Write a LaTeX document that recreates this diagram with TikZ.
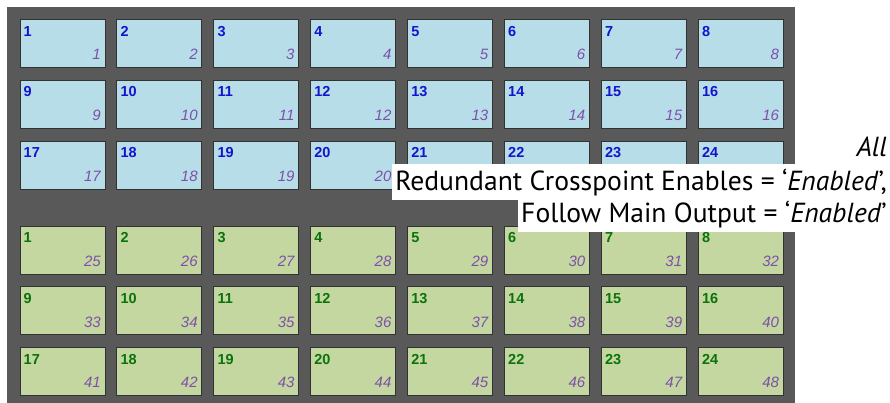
\documentclass[tikz,border=0pt]{standalone}
\usepackage{fontspec}
\setmainfont{Liberation Sans}
\newfontfamily\notefont{PT Sans}
\usetikzlibrary{calc}
\definecolor{panelGrey}{RGB}{89,89,89}
\definecolor{cellEdge}{RGB}{50,50,50}
\definecolor{srcBlue}{RGB}{183,221,232}
\definecolor{dstGreen}{RGB}{196,215,160}
\definecolor{srcText}{RGB}{20,20,205}
\definecolor{dstText}{RGB}{10,115,10}
\definecolor{idxPurple}{RGB}{125,80,170}
\newcommand{\XptCell}[5]{% name, x, y, kind, number
  \node[#4box] (#1) at (#2,#3) {};
  \node[cellnum,#4num] (#1-num) at ([shift={(4,-17)}]#1.north west) {#5};
  \node[cellidx] (#1-idx) at ([shift={(-4.5,8.3)}]#1.south east) {\n};
}

\begin{document}
\begin{tikzpicture}[x=1pt,y=1pt,
  cellbox/.style={draw=cellEdge,line width=0.9pt,minimum width=85pt,minimum height=48pt,inner sep=0pt,anchor=north west},
  srcbox/.style={cellbox,fill=srcBlue},
  dstbox/.style={cellbox,fill=dstGreen},
  cellnum/.style={font=\fontsize{14.5}{14.5}\selectfont\bfseries,anchor=base west,inner sep=0pt},
  srcnum/.style={text=srcText},
  dstnum/.style={text=dstText},
  cellidx/.style={font=\fontsize{15}{15}\selectfont\itshape,text=idxPurple,anchor=base east,inner sep=0pt},
  noteline/.style={fill=white,anchor=base east,inner xsep=3pt,inner ysep=4pt,text height=23pt,text depth=5pt,font=\notefont\fontsize{27.6}{27.6}\selectfont}]
\useasboundingbox (0,0) rectangle (890,-403);
\fill[panelGrey] (7,-7) rectangle (795,-403);
% crosspoint cells
\foreach \r in {0,...,5}
  \foreach \c in {0,...,7}{
    \pgfmathtruncatemacro{\n}{\r*8+\c+1}
    \pgfmathtruncatemacro{\k}{mod(\n-1,24)+1}
    \pgfmathsetmacro{\cx}{19.5+96.9*\c}
    \pgfmathsetmacro{\cy}{-(19.3+60.7*\r+(\r>2)*24.3)}
    \ifnum\r<3 \def\kind{src}\else\def\kind{dst}\fi
    \XptCell{cell\n}{\cx}{\cy}{\kind}{\k}
  }
% note
\node[noteline] (noteAll) at (890,-156.7) {\itshape All};
\node[noteline] (noteRedundant) at (890,-191) {Redundant Crosspoint Enables = ‘\textit{Enabled}’,};
\node[noteline] (noteFollow) at (890,-222.7) {Follow Main Output = ‘\textit{Enabled}’};
\end{tikzpicture}
\end{document}
